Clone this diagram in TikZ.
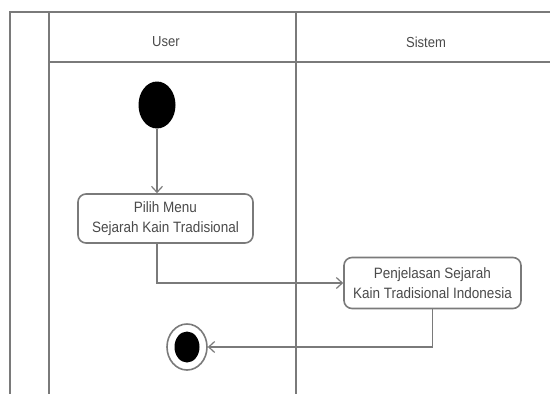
\documentclass[tikz,border=0pt]{standalone}
\usepackage{fontspec}
\setmainfont{Liberation Sans}
\newfontfamily\lanefont[FakeStretch=0.9]{Liberation Sans}
\usetikzlibrary{shapes.geometric,arrows.meta}
\definecolor{frame}{HTML}{7A7A7A}
\definecolor{ink}{HTML}{4A4A4A}
\tikzset{
  lane/.style={draw=frame, line width=1.8pt},
  action/.style={draw=frame, line width=1.6pt, rounded corners=8pt, fill=white,
    align=center, text=ink, font=\lanefont\fontsize{15}{19.5}\selectfont, inner sep=2pt},
  flow/.style={draw=frame, line width=1.3pt,
    -{Straight Barb[length=6pt,width=11pt,line width=1.2pt]}},
  startstate/.style={ellipse, fill=black, minimum width=37pt, minimum height=47pt, inner sep=0pt},
  endring/.style={ellipse, draw=frame, line width=1.6pt, minimum width=40pt, minimum height=46pt, inner sep=0pt},
  enddot/.style={ellipse, fill=black, minimum width=25pt, minimum height=31pt, inner sep=0pt},
  lanetitle/.style={text=ink, font=\lanefont\fontsize{14.5}{16}\selectfont}
}
\begin{document}
\begin{tikzpicture}[x=1pt,y=-1pt]
\useasboundingbox (0,0) rectangle (550,394);
\begin{scope}
\clip (0,0) rectangle (550,394);
% swimlane frame
\draw[lane] (558,12) -- (10,12) -- (10,400);
\draw[lane] (49,12) -- (49,400);
\draw[lane] (49,62) -- (558,62);
\draw[lane] (296,12) -- (296,400);
\end{scope}
% lane titles
\node[lanetitle] (user) at (166,42) {User};
\node[lanetitle] (sistem) at (426,42) {Sistem};
% states and actions
\node[startstate] (start) at (157,105) {};
\node[action, minimum width=175pt, minimum height=49pt] (pilih) at (165.5,218.5)
  {Pilih Menu\\Sejarah Kain Tradisional};
\node[action, minimum width=177pt, minimum height=51pt] (jelas) at (432.5,283)
  {Penjelasan Sejarah\\Kain Tradisional Indonesia};
\node[endring] (end) at (187,347) {};
\node[enddot] (enddot) at (187,347) {};
% control flow
\draw[flow] (start) -- (start |- pilih.north);
\draw[flow] (start |- pilih.south) -- (start |- jelas.west) -- (jelas.west);
\draw[flow] (jelas.south) -- (jelas.south |- end) -- (end.east);
\end{tikzpicture}
\end{document}
